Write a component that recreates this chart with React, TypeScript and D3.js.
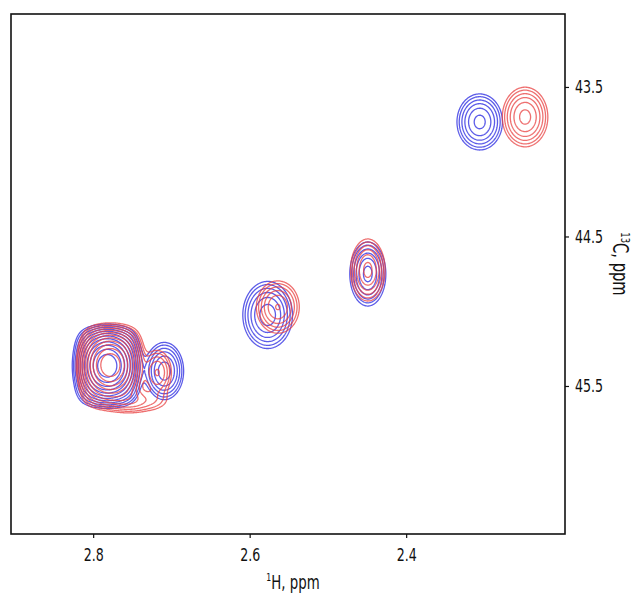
import * as d3 from 'd3';
import React, { useEffect, useRef } from 'react';

// axis ticks (ppm)
const xTicks = [2.8, 2.6, 2.4];
const yTicks = [43.5, 44.5, 45.5];

// contour levels (relative intensity)
const levels = [1, 1.4, 2, 2.8, 3.9, 5.4, 7.5, 10.5, 14.8, 20.7, 29, 40.5, 56.7];

// blue spectrum peaks (last one is the broad plateau under the big peak)
const blueH = [2.306, 2.449, 2.577, 2.782, 2.709, 2.782];
const blueC = [43.734, 44.751, 45.025, 45.365, 45.4, 45.37];
const blueWH = [0.0217, 0.0172, 0.0232, 0.021, 0.018, 0.036];
const blueWC = [0.14, 0.16, 0.164, 0.13, 0.14, 0.232];
const blueAmp = [6, 6, 6.5, 50, 6.5, 5];
const blueShape = [2, 2, 2, 2, 2, 4];

// red spectrum peaks
const redH = [2.248, 2.449, 2.564, 2.778, 2.718, 2.745, 2.777];
const redC = [43.701, 44.724, 44.972, 45.36, 45.41, 45.6, 45.37];
const redWH = [0.0217, 0.0165, 0.021, 0.021, 0.0153, 0.034, 0.035];
const redWC = [0.149, 0.155, 0.134, 0.13, 0.125, 0.07, 0.24];
const redAmp = [6, 6, 5.5, 50, 4, 2.8, 5];
const redShape = [2, 2, 2, 2, 2, 2, 4];

const App = () => {
  const ref = useRef<SVGSVGElement>(null);

  useEffect(() => {
    const svg = d3.select(ref.current);
    svg.selectAll('*').remove();

    const width = 633;
    const height = 595;
    const margin = { top: 14, right: 68, bottom: 61, left: 11 };
    const font = "'Liberation Sans Narrow', 'DejaVu Sans Condensed', 'DejaVu Sans', sans-serif";
    const squeeze = 0.78; // condensed look of the original lettering

    const x = d3.scaleLinear().domain([2.905, 2.197]).range([margin.left, width - margin.right]);
    const y = d3.scaleLinear().domain([43.012, 46.49]).range([margin.top, height - margin.bottom]);

    const nx = width - margin.left - margin.right;
    const ny = height - margin.top - margin.bottom;

    const grid = (H: number[], C: number[], wH: number[], wC: number[], amp: number[], shape: number[]) => {
      const values = new Float64Array(nx * ny);
      for (let j = 0; j < ny; j++) {
        const c = y.invert(margin.top + j + 0.5);
        for (let i = 0; i < nx; i++) {
          const h = x.invert(margin.left + i + 0.5);
          let v = 0;
          for (let k = 0; k < H.length; k++) {
            const p = shape[k];
            const dx = Math.abs((h - H[k]) / wH[k]);
            const dy = Math.abs((c - C[k]) / wC[k]);
            v += amp[k] * Math.exp(-(Math.pow(dx, p) + Math.pow(dy, p)));
          }
          values[j * nx + i] = v;
        }
      }
      return values;
    };

    const path = d3.geoPath(
      d3.geoTransform({
        point: function (px: number, py: number) {
          this.stream.point(margin.left + px, margin.top + py);
        },
      })
    );

    svg.append('defs')
      .append('clipPath')
      .attr('id', 'plot-clip')
      .append('rect')
      .attr('x', margin.left)
      .attr('y', margin.top)
      .attr('width', nx)
      .attr('height', ny);

    const plot = svg.append('g').attr('clip-path', 'url(#plot-clip)');

    const drawSpectrum = (values: Float64Array, color: string, opacity: number) => {
      const contours = d3.contours().size([nx, ny]).thresholds(levels)(Array.from(values));
      plot.append('g')
        .selectAll('path')
        .data(contours)
        .enter()
        .append('path')
        .attr('d', (d: any) => path(d))
        .attr('fill', 'none')
        .attr('stroke', color)
        .attr('stroke-opacity', opacity)
        .attr('stroke-width', 1.3);
    };

    drawSpectrum(grid(blueH, blueC, blueWH, blueWC, blueAmp, blueShape), '#4040e4', 0.85);
    drawSpectrum(grid(redH, redC, redWH, redWC, redAmp, redShape), '#e84040', 0.75);

    // frame
    svg.append('rect')
      .attr('x', margin.left)
      .attr('y', margin.top)
      .attr('width', nx)
      .attr('height', ny)
      .attr('fill', 'none')
      .attr('stroke', '#111')
      .attr('stroke-width', 1.6);

    const xAxis = svg.append('g')
      .attr('transform', 'translate(0,' + (height - margin.bottom) + ')')
      .call(d3.axisBottom(x).tickValues(xTicks).tickSize(4).tickPadding(10).tickFormat(d3.format('.1f')));
    xAxis.select('.domain').remove();
    xAxis.selectAll('.tick text').attr('transform', 'scale(' + squeeze + ',1)');

    const yAxis = svg.append('g')
      .attr('transform', 'translate(' + (width - margin.right) + ',0)')
      .call(d3.axisRight(y).tickValues(yTicks).tickSize(4).tickPadding(6).tickFormat(d3.format('.1f')));
    yAxis.select('.domain').remove();
    yAxis.selectAll('.tick text')
      .attr('x', 10 / squeeze)
      .attr('transform', 'scale(' + squeeze + ',1)');

    svg.selectAll('.tick text')
      .attr('font-family', font)
      .attr('font-size', 18)
      .attr('fill', '#111');
    svg.selectAll('.tick line').attr('stroke', '#111').attr('stroke-width', 1.2);

    const xLabel = svg.append('text')
      .attr('transform', 'translate(293,589) scale(' + squeeze + ',1)')
      .attr('text-anchor', 'middle')
      .attr('font-family', font)
      .attr('font-size', 19)
      .attr('fill', '#111');
    xLabel.append('tspan').attr('font-size', 11).attr('dy', -8).text('1');
    xLabel.append('tspan').attr('dy', 8).text('H, ppm');

    const yLabel = svg.append('text')
      .attr('transform', 'translate(613,264) rotate(90) scale(' + squeeze + ',1)')
      .attr('text-anchor', 'middle')
      .attr('font-family', font)
      .attr('font-size', 21)
      .attr('fill', '#111');
    yLabel.append('tspan').attr('font-size', 12).attr('dy', -8).text('13');
    yLabel.append('tspan').attr('dy', 8).text('C, ppm');
  }, []);

  return (
    <svg ref={ref} width={633} height={595} style={{ position: 'absolute', left: 0, top: 0, background: '#fff' }} />
  );
};

export default App;
